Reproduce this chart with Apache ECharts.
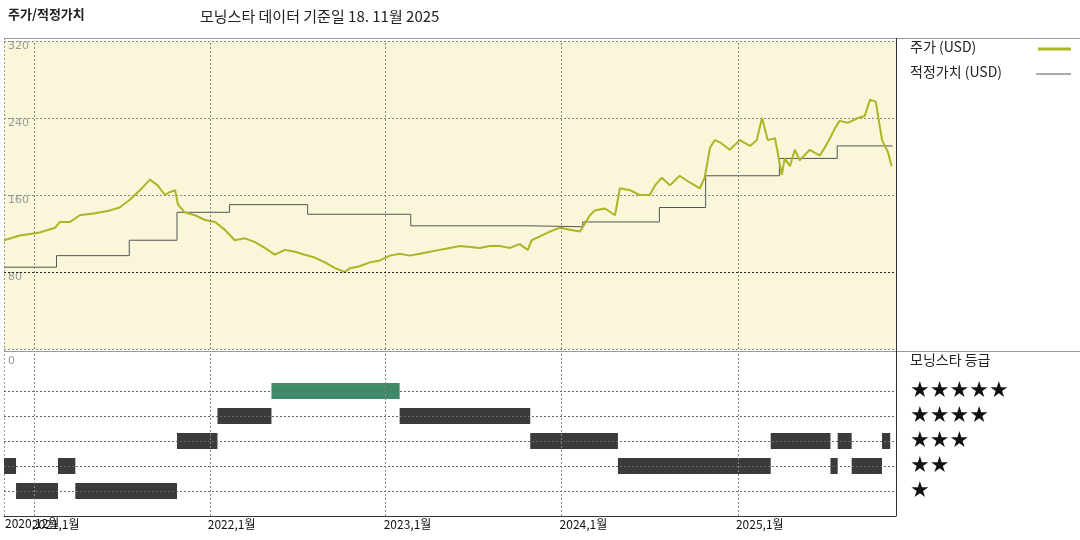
<!DOCTYPE html>
<html>
<head>
<meta charset="utf-8">
<script src="https://cdn.jsdelivr.net/npm/echarts@6/dist/echarts.min.js"></script>
<style>
  body { margin: 0; background: #fff; }
  #chart { width: 1080px; height: 540px; }
</style>
</head>
<body>
<div id="chart"></div>
<script>
// 주가 (USD)
const priceDates = ['2020-10-31','2020-12-03','2021-01-13','2021-02-14','2021-02-24','2021-03-17','2021-04-06','2021-05-08','2021-06-08','2021-06-28','2021-07-19','2021-08-09','2021-08-30','2021-09-15','2021-09-30','2021-10-10','2021-10-21','2021-10-27','2021-11-10','2021-12-01','2021-12-22','2022-01-12','2022-02-01','2022-02-22','2022-03-15','2022-04-05','2022-04-25','2022-05-16','2022-06-06','2022-06-27','2022-07-17','2022-08-07','2022-08-28','2022-09-18','2022-10-08','2022-10-19','2022-11-08','2022-11-29','2022-12-20','2023-01-10','2023-01-30','2023-02-20','2023-03-13','2023-04-03','2023-04-23','2023-05-14','2023-06-04','2023-06-25','2023-07-15','2023-08-05','2023-08-26','2023-09-16','2023-10-06','2023-10-23','2023-10-31','2023-11-17','2023-12-08','2023-12-28','2024-01-18','2024-02-08','2024-02-18','2024-02-29','2024-03-10','2024-03-31','2024-04-21','2024-05-01','2024-05-22','2024-06-11','2024-07-02','2024-07-13','2024-07-27','2024-08-13','2024-09-02','2024-09-23','2024-10-14','2024-10-24','2024-11-04','2024-11-14','2024-11-24','2024-12-15','2025-01-05','2025-01-26','2025-02-09','2025-02-20','2025-03-04','2025-03-19','2025-04-02','2025-04-08','2025-04-19','2025-04-29','2025-05-09','2025-05-30','2025-06-20','2025-06-30','2025-07-11','2025-07-21','2025-07-31','2025-08-17','2025-09-07','2025-09-21','2025-10-02','2025-10-14','2025-10-27','2025-11-08','2025-11-16'];
const priceValues = [113,118,121,126,132,132,139,141,144,147,155,165,176,170,160,163,165,150,142,139,134,132,124,113,115,111,105,98,103,101,98,95,90,84,80,84,86,90,92,97,99,97,99,101,103,105,107,106,105,107,107,105,109,103,113,117,122,126,124,122,130,139,144,146,139,167,165,160,160,170,178,170,180,173,167,178,209,217,215,207,217,211,217,240,217,219,181,198,190,207,196,207,201,209,219,229,237,235,240,242,259,257,217,205,190];

// 적정가치 (USD)
const fairDates = ['2020-10-31','2021-02-17','2021-07-18','2021-10-25','2022-02-11','2022-07-23','2023-02-22','2023-10-26','2024-02-14','2024-07-22','2024-10-26','2025-03-28','2025-07-26','2025-11-18'];
const fairValues = [85,97,113,142,150,140,128,127,132,147,180,198,211,211];

// 모닝스타 등급 구간: 시작, 끝, 별 수
const ratingStart = ['2020-10-31','2020-11-25','2021-02-20','2021-03-28','2021-10-25','2022-01-17','2022-05-09','2023-01-30','2023-10-28','2024-04-27','2025-03-10','2025-07-12','2025-07-27','2025-08-25','2025-10-27'];
const ratingEnd   = ['2020-11-25','2021-02-20','2021-03-28','2021-10-25','2022-01-17','2022-05-09','2023-01-30','2023-10-28','2024-04-27','2025-03-10','2025-07-12','2025-07-27','2025-08-25','2025-10-27','2025-11-13'];
const ratingStars = [2,1,2,1,3,4,5,4,3,2,3,2,3,2,3];

const yearLines = ['2021-01-01','2022-01-01','2023-01-01','2024-01-01','2025-01-01'];
const yearLabels = ['2021,1월','2022,1월','2023,1월','2024,1월','2025,1월'];
const priceTicks = [80,160,240,320];

const xMin = '2020-10-31', xMax = '2025-11-25';
const chart = echarts.init(document.getElementById('chart'));
const font = '"Noto Sans CJK KR", sans-serif';

const vLines = (withLabel) => yearLines.map((d, i) => ({
  xAxis: d,
  label: { show: withLabel, formatter: yearLabels[i] }
}));

chart.setOption({
  animation: false,
  textStyle: { fontFamily: font },
  grid: [
    { left: 4, right: 184, top: 41, bottom: 191, show: true, backgroundColor: '#f9f6d9', borderColor: 'transparent' },
    { left: 4, right: 184, top: 352, bottom: 24 }
  ],
  xAxis: [
    { gridIndex: 0, type: 'time', min: xMin, max: xMax, axisLabel: { show: false }, axisTick: { show: false },
      axisLine: { show: false }, splitLine: { show: false } },
    { gridIndex: 1, type: 'time', min: xMin, max: xMax, axisLabel: { show: false }, axisTick: { show: false },
      axisLine: { show: true, onZero: false, lineStyle: { color: '#333' } }, splitLine: { show: false } }
  ],
  yAxis: [
    { gridIndex: 0, type: 'value', min: 0, max: 320, interval: 80, axisLine: { show: false }, axisTick: { show: false },
      axisLabel: { inside: true, verticalAlign: 'top', margin: 4, color: '#999', fontSize: 11, fontFamily: 'DejaVu Sans',
        formatter: v => priceTicks.includes(v) ? v : '' },
      splitLine: { show: true, lineStyle: { color: '#888', type: [2, 2] } } },
    { gridIndex: 1, type: 'value', min: 0, max: 6.56, axisLine: { show: false }, axisTick: { show: false },
      axisLabel: { show: false }, splitLine: { show: false } }
  ],
  series: [
    {
      type: 'line', xAxisIndex: 0, yAxisIndex: 0, step: 'end', symbol: 'none',
      data: fairDates.map((d, i) => [d, fairValues[i]]),
      lineStyle: { color: '#555', width: 1 },
      markLine: { silent: true, symbol: 'none', label: { show: false },
        lineStyle: { color: '#888', type: [2, 2], width: 1 }, data: vLines(false) }
    },
    {
      type: 'line', xAxisIndex: 0, yAxisIndex: 0, symbol: 'none',
      data: priceDates.map((d, i) => [d, priceValues[i]]),
      lineStyle: { color: '#acb524', width: 2 },
      markLine: { silent: true, symbol: 'none', label: { show: false },
        lineStyle: { color: '#222', type: [2, 2], width: 1 }, data: [{ yAxis: 80 }] }
    },
    {
      type: 'custom', xAxisIndex: 1, yAxisIndex: 1,
      data: ratingStart.map((d, i) => [d, ratingEnd[i], ratingStars[i]]),
      encode: { x: [0, 1], y: 2 },
      renderItem: (params, api) => {
        const a = api.coord([api.value(0), api.value(2)]);
        const b = api.coord([api.value(1), api.value(2)]);
        return {
          type: 'rect',
          shape: { x: a[0], y: a[1] - 8, width: b[0] - a[0], height: 16 },
          style: { fill: api.value(2) === 5 ? '#3f8a68' : '#3b3b3b' }
        };
      },
      markLine: { silent: true, symbol: 'none',
        label: { show: false },
        lineStyle: { color: '#666', type: [2, 2], width: 1 },
        data: [1, 2, 3, 4, 5].map(v => ({ yAxis: v }))
      }
    },
    {
      type: 'line', xAxisIndex: 1, yAxisIndex: 1, data: [],
      markLine: { silent: true, symbol: 'none',
        label: { show: true, position: 'start', distance: 2, color: '#111', fontSize: 12, fontFamily: font,
          align: 'left', padding: [0, 0, 0, -2] },
        lineStyle: { color: '#888', type: [2, 2], width: 1 },
        data: vLines(true)
      }
    }
  ],
  graphic: [
    { type: 'text', left: 8, top: 8, style: { text: '주가/적정가치', font: 'bold 13px ' + font, fill: '#222' } },
    { type: 'text', left: 200, top: 9, style: { text: '모닝스타 데이터 기준일 18. 11월 2025', font: '15px ' + font, fill: '#222' } },
    { type: 'text', left: 5, top: 517, style: { text: '2020,12월', font: '12px ' + font, fill: '#111' } },
    { type: 'line', shape: { x1: 4, y1: 38.5, x2: 1080, y2: 38.5 }, style: { stroke: '#999', lineWidth: 1 } },
    { type: 'line', shape: { x1: 4, y1: 351.5, x2: 1080, y2: 351.5 }, style: { stroke: '#999', lineWidth: 1 } },
    { type: 'line', shape: { x1: 4.5, y1: 38, x2: 4.5, y2: 516 }, style: { stroke: '#999', lineWidth: 1, lineDash: [2, 2] } },
    { type: 'line', shape: { x1: 896.5, y1: 38, x2: 896.5, y2: 516 }, style: { stroke: '#333', lineWidth: 1 } },
    { type: 'text', left: 8, top: 356, style: { text: '0', font: '11px DejaVu Sans', fill: '#999' } },
    { type: 'text', left: 910, top: 40, style: { text: '주가 (USD)', font: '14px ' + font, fill: '#222' } },
    { type: 'line', shape: { x1: 1038, y1: 49, x2: 1071, y2: 49 }, style: { stroke: '#acb524', lineWidth: 3 } },
    { type: 'text', left: 910, top: 65, style: { text: '적정가치 (USD)', font: '14px ' + font, fill: '#222' } },
    { type: 'line', shape: { x1: 1036, y1: 74, x2: 1071, y2: 74 }, style: { stroke: '#555', lineWidth: 1 } },
    { type: 'text', left: 910, top: 353, style: { text: '모닝스타 등급', font: '14px ' + font, fill: '#222' } },
    { type: 'text', left: 910, top: 380, style: { text: '★★★★★', font: '22px DejaVu Sans', fill: '#111' } },
    { type: 'text', left: 910, top: 405, style: { text: '★★★★', font: '22px DejaVu Sans', fill: '#111' } },
    { type: 'text', left: 910, top: 430, style: { text: '★★★', font: '22px DejaVu Sans', fill: '#111' } },
    { type: 'text', left: 910, top: 455, style: { text: '★★', font: '22px DejaVu Sans', fill: '#111' } },
    { type: 'text', left: 910, top: 480, style: { text: '★', font: '22px DejaVu Sans', fill: '#111' } }
  ]
});
</script>
</body>
</html>
